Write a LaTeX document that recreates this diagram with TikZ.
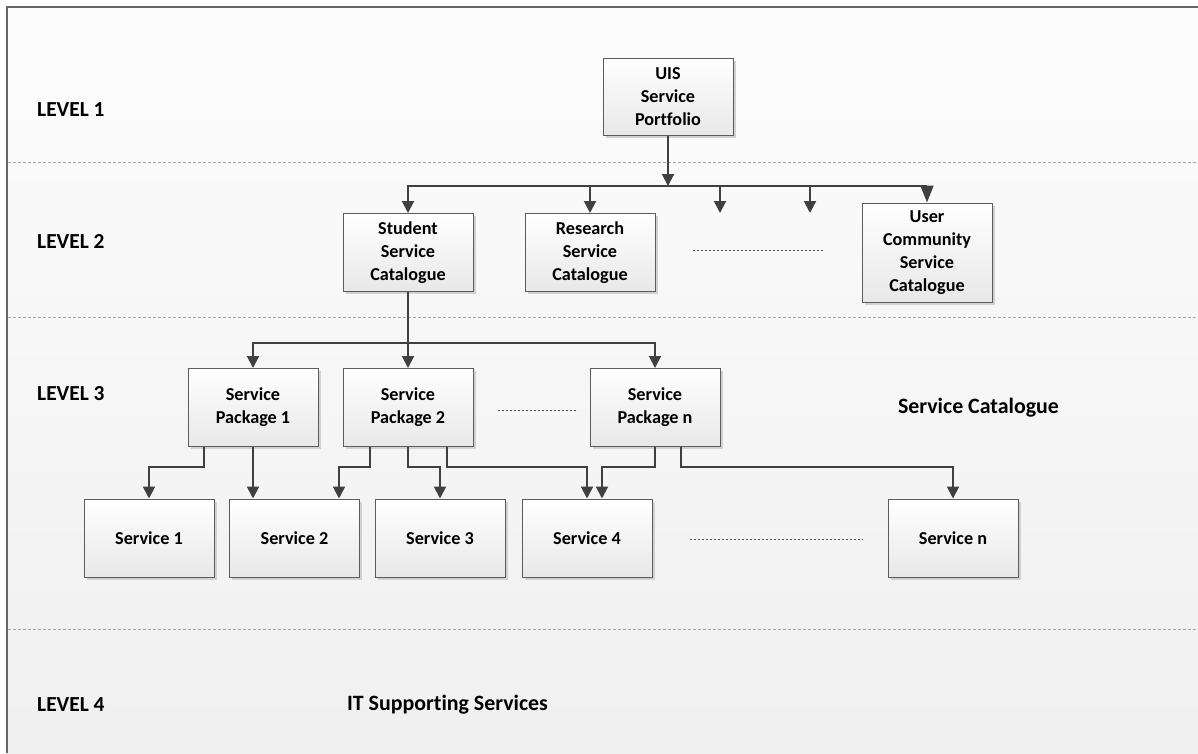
\documentclass[tikz,border=0pt]{standalone}
\usepackage{fontspec}
\setmainfont[Ligatures=NoCommon]{Carlito}
\usetikzlibrary{arrows.meta,shadows}
\definecolor{linegray}{HTML}{404040}
\definecolor{boxedge}{HTML}{5C5C5C}
\definecolor{sepgray}{HTML}{A8A8A8}
\tikzset{
  box/.style={draw=boxedge, line width=1pt, top color=white, bottom color=black!9,
    minimum width=130pt, minimum height=78pt, align=center, inner sep=2pt,
    font=\fontsize{18.2}{23}\selectfont\bfseries,
    drop shadow={shadow xshift=2.5pt, shadow yshift=-2.5pt, fill=black!18, opacity=1}},
  conn/.style={draw=linegray, line width=2pt,
    -{Triangle[length=12pt,width=12pt]}},
  bigconn/.style={draw=linegray, line width=2pt,
    -{Triangle[length=17pt,width=13pt]}},
  levellabel/.style={anchor=west, inner sep=0pt, font=\fontsize{21.4}{24}\selectfont\bfseries},
  layerlabel/.style={inner sep=0pt, font=\fontsize{21.9}{26}\selectfont\bfseries},
  separator/.style={draw=sepgray, line width=1pt, dash pattern=on 3pt off 2pt},
  gapdots/.style={draw=black!70, line width=1pt, dash pattern=on 2pt off 2pt},
}
\begin{document}
\begin{tikzpicture}[x=1pt, y=-1pt]
\useasboundingbox (0,0) rectangle (1198,753);
% canvas and frame
\fill[white] (0,0) rectangle (1198,753);
\shade[top color=black!1, bottom color=black!6] (6.5,6.5) rectangle (1198,753);
\draw[black!60, line width=2pt] (6.5,753) -- (6.5,6.5) -- (1198,6.5);

% layer separators
\draw[separator] (7.5,162) -- (1198,162);
\draw[separator] (7.5,317) -- (1198,317);
\draw[separator] (7.5,629) -- (1198,629);

% level labels
\node[levellabel] (l1) at (37,110) {LEVEL 1};
\node[levellabel] (l2) at (37,241) {LEVEL 2};
\node[levellabel] (l3) at (37,394) {LEVEL 3};
\node[levellabel] (l4) at (37,705) {LEVEL 4};
\node[layerlabel] (catlabel) at (978.5,408) {Service Catalogue};
\node[layerlabel] (itlabel) at (447.5,705) {IT Supporting Services};

% level 1
\node[box, minimum height=77pt] (uis) at (668,96.5) {UIS\\Service\\Portfolio};

% level 2
\node[box] (student) at (408,252.5) {Student\\Service\\Catalogue};
\node[box] (research) at (590,252.5) {Research\\Service\\Catalogue};
\node[box, minimum height=99pt] (user) at (927,252.5) {User\\Community\\Service\\Catalogue};

% level 3
\node[box] (p1) at (253,407.5) {Service\\Package 1};
\node[box] (p2) at (408,407.5) {Service\\Package 2};
\node[box] (pn) at (655,407.5) {Service\\Package n};

% services
\node[box] (s1) at (149,538) {Service 1};
\node[box] (s2) at (294.5,538) {Service 2};
\node[box] (s3) at (440,538) {Service 3};
\node[box] (s4) at (587,538) {Service 4};
\node[box] (sn) at (953,538) {Service n};

% portfolio to catalogues
\coordinate (hub) at (668,186);
\coordinate (free1) at (720,213);
\coordinate (free2) at (810,213);
\draw[conn] (uis.south) -- (hub);
\draw[conn] (hub) -| (student.north);
\draw[conn] (hub) -| (research.north);
\draw[conn] (hub) -| (free1);
\draw[conn] (hub) -| (free2);
\draw[bigconn] (hub) -| (user.north);

% student catalogue to packages
\coordinate (split) at (408,343);
\draw[conn] (student.south) -- (split) -| (p1.north);
\draw[conn] (split) -- (p2.north);
\draw[conn] (split) -| (pn.north);

% packages to services
\draw[conn] ([xshift=-49pt]p1.south) -- ++(0,20) -| (s1.north);
\draw[conn] (p1.south) -- (p1.south |- s2.north);
\draw[conn] ([xshift=-38pt]p2.south) -- ++(0,20) -| ([xshift=44.5pt]s2.north);
\draw[conn] (p2.south) -- ++(0,20) -| (s3.north);
\draw[conn] ([xshift=39pt]p2.south) -- ++(0,20) -| (s4.north);
\draw[conn] (pn.south) -- ++(0,20) -| ([xshift=15pt]s4.north);
\draw[conn] ([xshift=26pt]pn.south) -- ++(0,20) -| (sn.north);

% elided items
\coordinate (d1a) at (693,250); \coordinate (d1b) at (823,250);
\coordinate (d2a) at (498,410); \coordinate (d2b) at (578,410);
\coordinate (d3a) at (690,539); \coordinate (d3b) at (863,539);
\draw[gapdots] (d1a) -- (d1b);
\draw[gapdots] (d2a) -- (d2b);
\draw[gapdots] (d3a) -- (d3b);
\end{tikzpicture}
\end{document}
